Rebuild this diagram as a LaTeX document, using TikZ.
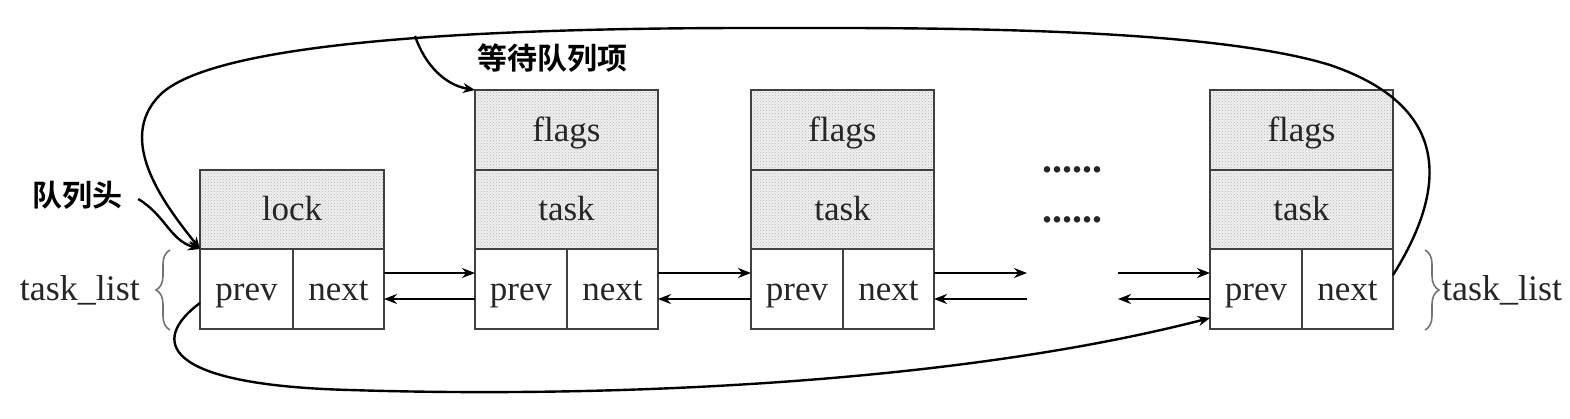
\documentclass[tikz,border=0pt]{standalone}
\usepackage{fontspec}
\setmainfont{Liberation Serif}
\newfontfamily\cjk{Noto Sans CJK SC Bold}
\usetikzlibrary{arrows.meta,decorations.pathreplacing,patterns}
\tikzset{
  cellbox/.style={draw=black!75, line width=1.8pt, outer sep=0pt, inner sep=0pt,
    font=\fontsize{35}{40}\selectfont, text=black!85, text height=28pt, text depth=6pt},
  shadedcell/.style={cellbox, preaction={fill=black!6}, pattern=crosshatch dots, pattern color=black!30},
  plaincell/.style={cellbox, fill=white},
  arr/.style={line width=2.8pt, -{Stealth[length=13pt,width=10pt]}},
  curv/.style={line width=2.4pt, -{Stealth[length=12pt,width=10pt]}},
  cjklabel/.style={font=\cjk\fontsize{30}{34}\selectfont, inner sep=0pt},
  lbl/.style={font=\fontsize{36}{40}\selectfont, text=black!85, inner sep=0pt},
  bracestyle/.style={decorate, decoration={brace, amplitude=14pt}, line width=1.6pt, draw=black!55},
}
\newcommand\qbox[2]{%
  \node[shadedcell, minimum width=183pt, minimum height=80pt] (#1f) at (#2+91.5,130) {flags};
  \node[shadedcell, minimum width=183pt, minimum height=79pt] (#1t) at (#2+91.5,209.5) {task};
  \node[plaincell, minimum width=92pt, minimum height=80pt] (#1p) at (#2+46,289) {prev};
  \node[plaincell, minimum width=91pt, minimum height=80pt] (#1n) at (#2+137.5,289) {next};
}
\begin{document}
\begin{tikzpicture}[x=1pt,y=-1pt]
\useasboundingbox[fill=white] (0,0) rectangle (1570,418);
% head
\node[shadedcell, minimum width=184pt, minimum height=79pt] (hl) at (292,209.5) {lock};
\node[plaincell, minimum width=93pt, minimum height=80pt] (hp) at (246.5,289) {prev};
\node[plaincell, minimum width=91pt, minimum height=80pt] (hn) at (338.5,289) {next};
\qbox{a}{475}
\qbox{b}{751}
\qbox{c}{1210}
% dots
\node[lbl, font=\bfseries\fontsize{40}{44}\selectfont] (dt1) at (1072,170) {......};
\node[lbl, font=\bfseries\fontsize{40}{44}\selectfont] (dt2) at (1072,220) {......};
% dangling ends
\coordinate (d1) at (1027,273);
\coordinate (d2) at (1027,299);
\coordinate (d3) at (1118,273);
\coordinate (d4) at (1118,299);
% links
\draw[arr] ([yshift=16pt]hn.east) -- ([yshift=16pt]ap.west);
\draw[arr] ([yshift=-10pt]ap.west) -- ([yshift=-10pt]hn.east);
\draw[arr] ([yshift=16pt]an.east) -- ([yshift=16pt]bp.west);
\draw[arr] ([yshift=-10pt]bp.west) -- ([yshift=-10pt]an.east);
\draw[arr] ([yshift=16pt]bn.east) -- (d1);
\draw[arr] (d2) -- ([yshift=-10pt]bn.east);
\draw[arr] (d3) -- ([yshift=16pt]cp.west);
\draw[arr] ([yshift=-10pt]cp.west) -- (d4);
% big loops
\draw[curv] ([yshift=14pt]cn.east) .. controls (1440,200) and (1462,110) .. (1330,65)
  .. controls (1200,25) and (900,28) .. (750,28)
  .. controls (450,28) and (210,45) .. (160,95)
  .. controls (115,140) and (165,205) .. (hp.north west);
\draw[curv] ([yshift=-14pt]hp.west) .. controls (150,340) and (160,385) .. (350,390)
  .. controls (600,398) and (950,385) .. ([yshift=-29pt]cp.west);
% labels
\node[cjklabel] (qh) at (77,195) {队列头};
\draw[curv] ([xshift=16pt,yshift=-4pt]qh.east) .. controls (165,215) and (170,240) .. (hp.north west);
\node[cjklabel] (wq) at (552,58) {等待队列项};
\coordinate (wqs) at (415,36);
\draw[curv] (wqs) .. controls (425,65) and (445,85) .. (af.north west);
% braces
\draw[bracestyle] (170,330) -- (170,250);
\draw[bracestyle] (1425,250) -- (1425,330);
\node[lbl, anchor=east] (tl1) at (140,290) {task\_list};
\node[lbl, anchor=west] (tl2) at (1442,290) {task\_list};
\end{tikzpicture}
\end{document}
